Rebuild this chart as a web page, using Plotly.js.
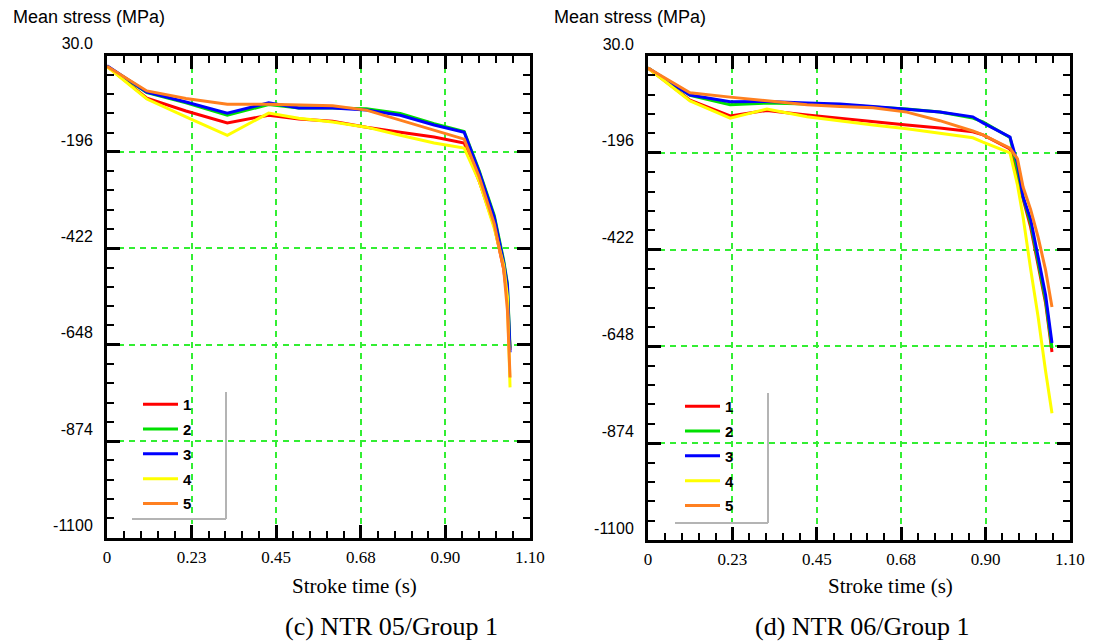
<!DOCTYPE html>
<html>
<head>
<meta charset="utf-8">
<script src="https://cdn.plot.ly/plotly-3.0.1.min.js"></script>
<style>
  html, body { margin: 0; padding: 0; background: #ffffff; }
  #chart { width: 1094px; height: 644px; }
</style>
</head>
<body>
<div id="chart"></div>
<script>
// ---- Run NTR 05 / Group 1: stroke time (s) and mean stress (MPa) per point ----
const timeC = [0, 0.106, 0.21, 0.32, 0.43, 0.51, 0.60, 0.69, 0.78, 0.87, 0.95, 0.99, 1.03, 1.055, 1.065, 1.072];
const stressC1 = [5, -70, -100, -128, -110, -119, -124, -138, -150, -161, -175, -265, -370, -470, -540, -660];
const stressC2 = [5, -57, -81, -110, -85, -93, -93, -95, -106, -130, -148, -240, -345, -450, -505, -655];
const stressC3 = [6, -56, -79, -105, -81, -93, -93, -98, -110, -133, -150, -243, -349, -455, -509, -666];
const stressC4 = [4, -72, -114, -157, -105, -117, -126, -138, -157, -175, -187, -265, -375, -462, -535, -748];
const stressC5 = [5, -53, -71, -84, -84, -86, -88, -98, -121, -145, -166, -255, -365, -471, -567, -725];

// ---- Run NTR 06 / Group 1 ----
const timeD = [0, 0.112, 0.219, 0.317, 0.424, 0.512, 0.60, 0.69, 0.778, 0.866, 0.893, 0.965, 0.985, 1.0, 1.02, 1.04, 1.06, 1.077];
const stressD1 = [2, -73, -110, -97, -108, -116, -124, -131, -138, -147, -154, -187, -255, -306, -369, -458, -547, -661];
const stressD2 = [2, -62, -84, -80, -82, -84, -89, -94, -101, -115, -124, -160, -235, -300, -360, -450, -540, -652];
const stressD3 = [2, -61, -77, -76, -80, -82, -88, -94, -101, -112, -126, -159, -220, -299, -351, -439, -528, -640];
const stressD4 = [2, -75, -115, -94, -112, -122, -131, -140, -150, -161, -171, -196, -271, -346, -467, -579, -706, -804];
const stressD5 = [2, -56, -66, -75, -84, -88, -91, -101, -121, -145, -154, -185, -210, -276, -328, -393, -470, -556];

// ---- Series names, colours, axis ticks and captions ----
const seriesNames = ['1', '2', '3', '4', '5'];
const seriesColors = ['#ff0000', '#00e000', '#0000ff', '#ffff00', '#ff8020'];
// time axis: 0 .. 1.125 s in five major steps, labels as printed on the axis
const xMajorStep = 0.225;
const xMinorStep = 0.045;
const xTickText = { '0.000': '0', '0.225': '0.23', '0.450': '0.45', '0.675': '0.68', '0.900': '0.90', '1.125': '1.10' };
// stress axis: -1100 .. 30 MPa in five major steps
const yMajorStep = 226;
const yMinorStep = 45.2;
const yTickText = { '30': '30.0', '\u2212196': '-196', '\u2212422': '-422', '\u2212648': '-648', '\u2212874': '-874', '\u22121100': '-1100' };
const yTitle = 'Mean stress (MPa)';
const xTitle = 'Stroke time (s)';
const captions = ['(c) NTR 05/Group 1', '(d) NTR 06/Group 1'];

const W = 1094, H = 644;
const px = v => v / W;
const py = v => 1 - v / H;
const sans = 'Liberation Sans, Arial, sans-serif';
const serif = 'Liberation Serif, Times New Roman, serif';
const xRange = [0, 1.12505];
const yRange = [-1100, 30.005];

const seriesC = [stressC1, stressC2, stressC3, stressC4, stressC5];
const seriesD = [stressD1, stressD2, stressD3, stressD4, stressD5];

const traces = [];
seriesC.forEach((ys, i) => traces.push({
  type: 'scatter', mode: 'lines', x: timeC, y: ys, name: seriesNames[i],
  xaxis: 'x', yaxis: 'y', legend: 'legend', legendgroup: 'c' + i,
  line: { color: seriesColors[i], width: 3 }
}));
seriesD.forEach((ys, i) => traces.push({
  type: 'scatter', mode: 'lines', x: timeD, y: ys, name: seriesNames[i],
  xaxis: 'x2', yaxis: 'y2', legend: 'legend2', legendgroup: 'd' + i,
  line: { color: seriesColors[i], width: 3 }
}));

const minorTicks = (tick0, dtick) => ({
  tickmode: 'linear', tick0: tick0, dtick: dtick, ticks: 'inside',
  ticklen: 7, tickwidth: 2, tickcolor: '#000', showgrid: false
});

// frame with long major ticks, short minor ticks, labels and a dashed green grid
function xAxis(domain, anchor) {
  return {
    domain: domain, anchor: anchor, range: xRange,
    tickmode: 'linear', tick0: 0, dtick: xMajorStep,
    tickformat: '.3f', labelalias: xTickText,
    ticks: 'inside', ticklen: 13, tickwidth: 3, tickcolor: '#000',
    showline: true, linewidth: 3, linecolor: '#000', mirror: 'ticks',
    showgrid: true, gridcolor: '#33ee33', gridwidth: 2, griddash: '6px,5px',
    zeroline: false, minor: minorTicks(0, xMinorStep),
    tickfont: { family: serif, size: 17, color: '#000' },
    ticklabelstandoff: 2, fixedrange: true
  };
}
function yAxis(domain, anchor) {
  return {
    domain: domain, anchor: anchor, range: yRange,
    tickmode: 'linear', tick0: -1100, dtick: yMajorStep,
    tickformat: 'd', labelalias: yTickText,
    ticks: 'inside', ticklen: 13, tickwidth: 3, tickcolor: '#000',
    showline: true, linewidth: 3, linecolor: '#000', mirror: 'ticks',
    showgrid: true, gridcolor: '#33ee33', gridwidth: 2, griddash: '6px,5px',
    zeroline: false, minor: minorTicks(-1100, yMinorStep),
    tickfont: { family: sans, size: 16, color: '#000' },
    ticklabelshift: -12, ticklabelstandoff: 8, fixedrange: true
  };
}

function legendBox(left, top) {
  return {
    x: px(left), y: py(top), xanchor: 'left', yanchor: 'top',
    bgcolor: 'rgba(0,0,0,0)', borderwidth: 0,
    traceorder: 'grouped', tracegroupgap: 2.3, itemwidth: 35,
    font: { family: sans, size: 15, color: '#000', weight: 'bold' }
  };
}
// light grey drop edge on the right and bottom of each legend box
function legendEdge(l, t, r, b) {
  const style = { color: '#b4b4b4', width: 2 };
  return [
    { type: 'line', xref: 'paper', yref: 'paper', x0: px(r), x1: px(r), y0: py(t), y1: py(b), line: style },
    { type: 'line', xref: 'paper', yref: 'paper', x0: px(l), x1: px(r), y0: py(b), y1: py(b), line: style }
  ];
}

function label(text, x, y, font, anchor) {
  return { text: text, xref: 'paper', yref: 'paper', x: px(x), y: py(y),
           xanchor: anchor, yanchor: 'middle', showarrow: false, font: font };
}

const layout = {
  width: W, height: H, autosize: false,
  margin: { l: 0, r: 0, t: 0, b: 0 },
  paper_bgcolor: '#ffffff', plot_bgcolor: '#ffffff',
  showlegend: true,
  xaxis: xAxis([px(107), px(530)], 'y'),
  yaxis: yAxis([py(537.5), py(55.5)], 'x'),
  xaxis2: xAxis([px(648), px(1070)], 'y2'),
  yaxis2: yAxis([py(540), py(56)], 'x2'),
  legend: legendBox(138, 388),
  legend2: legendBox(680, 390),
  shapes: [].concat(legendEdge(132, 392, 226, 519), legendEdge(675, 393, 768, 523)),
  annotations: [
    label(yTitle, 11, 17, { family: sans, size: 18, color: '#000' }, 'left'),
    label(yTitle, 552, 17, { family: sans, size: 18, color: '#000' }, 'left'),
    label(xTitle, 354, 586, { family: serif, size: 21, color: '#000' }, 'center'),
    label(xTitle, 890, 586, { family: serif, size: 21, color: '#000' }, 'center'),
    label(captions[0], 391, 626, { family: serif, size: 26, color: '#000' }, 'center'),
    label(captions[1], 862, 626, { family: serif, size: 26, color: '#000' }, 'center')
  ]
};

Plotly.newPlot('chart', traces, layout, { staticPlot: true, displayModeBar: false });
</script>
</body>
</html>
